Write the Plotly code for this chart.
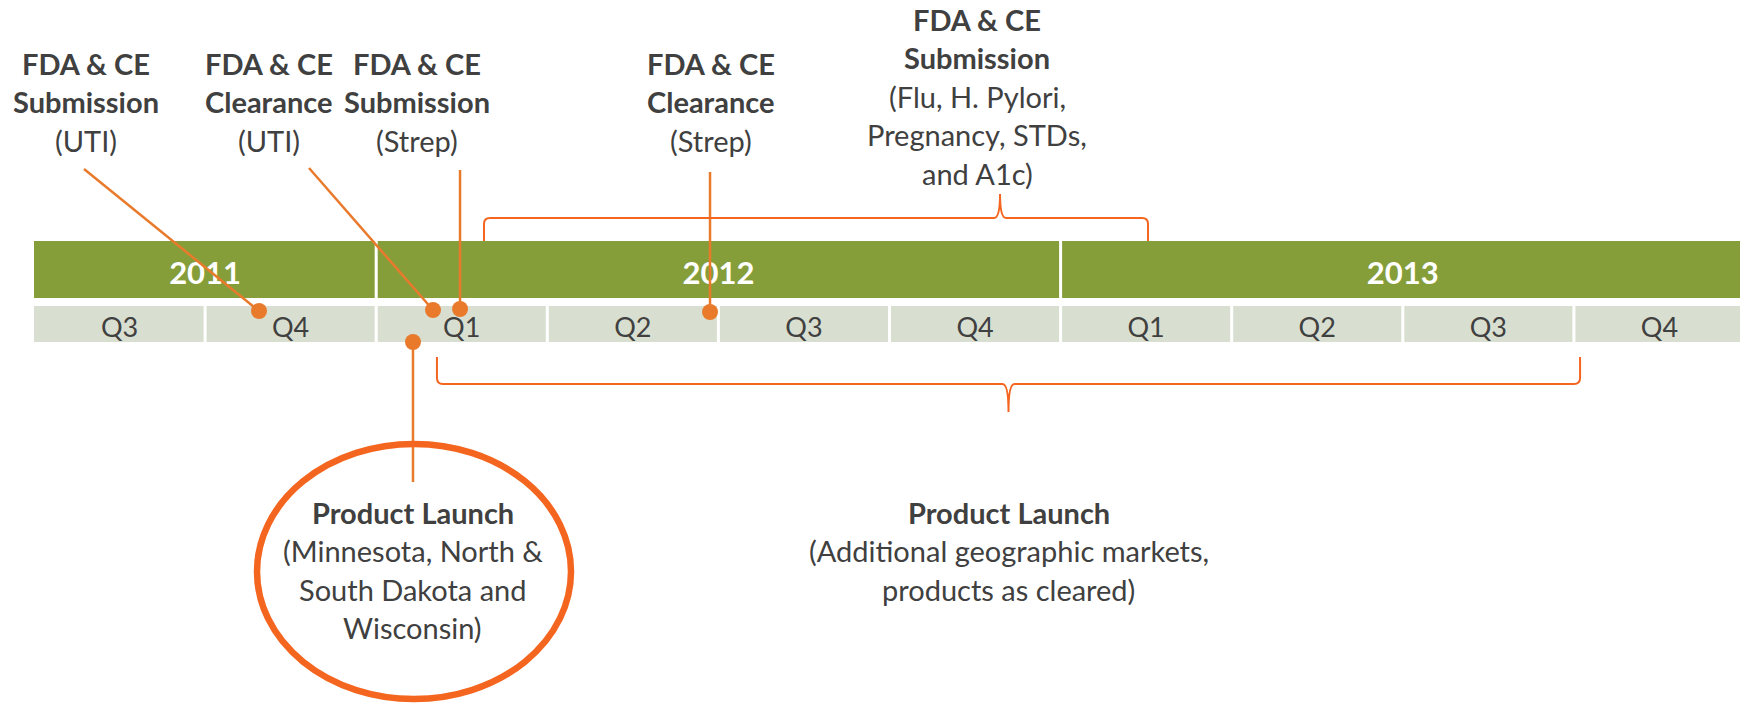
import plotly.graph_objects as go

# ---------------- data ----------------
quarter_labels = ["Q3", "Q4", "Q1", "Q2", "Q3", "Q4", "Q1", "Q2", "Q3", "Q4"]
year_labels = ["2011", "2012", "2013"]
year_quarters = [2, 4, 4]

# milestones above the timeline (timeline position in quarters since start of Q3 2011)
milestone_titles = [
    ["FDA & CE", "Submission"],
    ["FDA & CE", "Clearance"],
    ["FDA & CE", "Submission"],
    ["FDA & CE", "Clearance"],
    ["FDA & CE", "Submission"],
]
milestone_details = [
    ["(UTI)"],
    ["(UTI)"],
    ["(Strep)"],
    ["(Strep)"],
    ["(Flu, H. Pylori,", "Pregnancy, STDs,", "and A1c)"],
]
milestone_dates = [1.315, 2.332, 2.49, 3.951]
submission_window = [2.63, 6.511]
submission_peak = 5.646

# launches below the timeline
launch_titles = [["Product Launch"], ["Product Launch"]]
launch_details = [
    ["(Minnesota, North &", "South Dakota and", "Wisconsin)"],
    ["(Additional geographic markets,", "products as cleared)"],
]
initial_launch_date = 2.215
rollout_window = [2.355, 9.036]

# ---------------- layout constants ----------------
W, H = 1740, 703
PX0, QPX = 34.0, 171.1          # pixel of timeline start, pixels per quarter


def q(px):
    return (px - PX0) / QPX


GREEN = "#869E3A"
CELL = "#D9DFD0"
TEXT = "#404040"
ORANGE = "#E97A2C"
BRACE = "#F4661F"
FONT = "Lato"
FS = 29
LH = 38.5
GAP = 1.5 / QPX

YEAR_Y = (241, 298)
QROW_Y = (306, 342)

label_x = [q(86), q(269), q(417), q(711), q(977)]
label_top = [63, 63, 63, 63, 19]
line_start = [(q(84), 169), (q(309), 168), (None, 170), (None, 172)]
dot_y = [311, 310, 309, 312]

fig = go.Figure()
shapes = []
annotations = []

# year bars
start = 0
for i, n in enumerate(year_quarters):
    x0 = start + (GAP if i > 0 else 0)
    x1 = start + n - GAP
    shapes.append(dict(type="rect", xref="x", yref="y", x0=x0, x1=x1,
                       y0=YEAR_Y[0], y1=YEAR_Y[1], fillcolor=GREEN,
                       line=dict(width=0), layer="below"))
    start += n
# quarter cells
for i, lab in enumerate(quarter_labels):
    x0 = i + (GAP if i > 0 else 0)
    x1 = i + 1 - GAP
    shapes.append(dict(type="rect", xref="x", yref="y", x0=x0, x1=x1,
                       y0=QROW_Y[0], y1=QROW_Y[1], fillcolor=CELL,
                       line=dict(width=0), layer="below"))

# year text
yc, s = [], 0
for n in year_quarters:
    yc.append(s + n / 2)
    s += n
fig.add_trace(go.Scatter(x=yc, y=[276] * len(yc), mode="text",
                         text=[f"<b>{y}</b>" for y in year_labels],
                         textfont=dict(family=FONT, size=31, color="white"),
                         hoverinfo="skip", showlegend=False))
# quarter text
fig.add_trace(go.Scatter(x=[i + 0.5 for i in range(len(quarter_labels))],
                         y=[330] * len(quarter_labels), mode="text",
                         text=quarter_labels,
                         textfont=dict(family=FONT, size=27, color=TEXT),
                         hoverinfo="skip", showlegend=False))

# connector lines to milestone dots
for i, d in enumerate(milestone_dates):
    sx, sy = line_start[i]
    if sx is None:
        sx = d
    fig.add_trace(go.Scatter(x=[sx, d], y=[sy, dot_y[i]], mode="lines",
                             line=dict(color=ORANGE, width=2.5),
                             hoverinfo="skip", showlegend=False))
# launch connector
fig.add_trace(go.Scatter(x=[initial_launch_date, initial_launch_date], y=[342, 482],
                         mode="lines", line=dict(color=ORANGE, width=2.5),
                         hoverinfo="skip", showlegend=False))
# dots
fig.add_trace(go.Scatter(x=milestone_dates + [initial_launch_date],
                         y=dot_y + [342], mode="markers",
                         marker=dict(color=ORANGE, size=16, line=dict(width=0)),
                         hoverinfo="skip", showlegend=False))


def brace(x0, x1, xt, y_line, y_end, y_tip, r=6.0, rt=6.0):
    rx, rtx = r / QPX, rt / QPX
    d = 1 if y_end > y_line else -1
    p = (f"M {x0},{y_end} L {x0},{y_line + d * r} Q {x0},{y_line} {x0 + rx},{y_line} "
         f"L {xt - rtx},{y_line} Q {xt},{y_line} {xt},{y_tip} "
         f"Q {xt},{y_line} {xt + rtx},{y_line} "
         f"L {x1 - rx},{y_line} Q {x1},{y_line} {x1},{y_line + d * r} L {x1},{y_end}")
    return dict(type="path", xref="x", yref="y", path=p,
                line=dict(color=BRACE, width=2), layer="above")


shapes.append(brace(submission_window[0], submission_window[1], submission_peak,
                    218, 241, 194))
rmid = (rollout_window[0] + rollout_window[1]) / 2
shapes.append(brace(rollout_window[0], rollout_window[1], rmid, 384, 357, 412))

# ellipse around first launch
shapes.append(dict(type="circle", xref="x", yref="y", x0=q(257), x1=q(571),
                   y0=444, y1=699, line=dict(color=BRACE, width=6.5),
                   layer="above"))


def add_lines(x, y_first, bold_lines, plain_lines):
    y = y_first
    for t in bold_lines:
        annotations.append(dict(x=x, y=y, xref="x", yref="y", text=f"<b>{t}</b>",
                                showarrow=False, xanchor="center", yanchor="middle",
                                font=dict(family=FONT, size=FS, color=TEXT)))
        y += LH
    for t in plain_lines:
        annotations.append(dict(x=x, y=y, xref="x", yref="y", text=t,
                                showarrow=False, xanchor="center", yanchor="middle",
                                font=dict(family=FONT, size=FS, color=TEXT)))
        y += LH


for i in range(len(milestone_titles)):
    add_lines(label_x[i], label_top[i], milestone_titles[i], milestone_details[i])

add_lines(initial_launch_date, 512, launch_titles[0], launch_details[0])
add_lines(rmid, 512, launch_titles[1], launch_details[1])

fig.update_layout(
    width=W, height=H,
    margin=dict(l=0, r=0, t=0, b=0),
    paper_bgcolor="white", plot_bgcolor="white",
    xaxis=dict(range=[q(0), q(W)], visible=False, fixedrange=True),
    yaxis=dict(range=[H, 0], visible=False, fixedrange=True),
    shapes=shapes, annotations=annotations,
    showlegend=False, hovermode=False,
)

fig.write_html(
    "out.html",
    config={"displayModeBar": False},
    post_script="document.body.style.margin='0';document.body.style.overflow='hidden';",
)
